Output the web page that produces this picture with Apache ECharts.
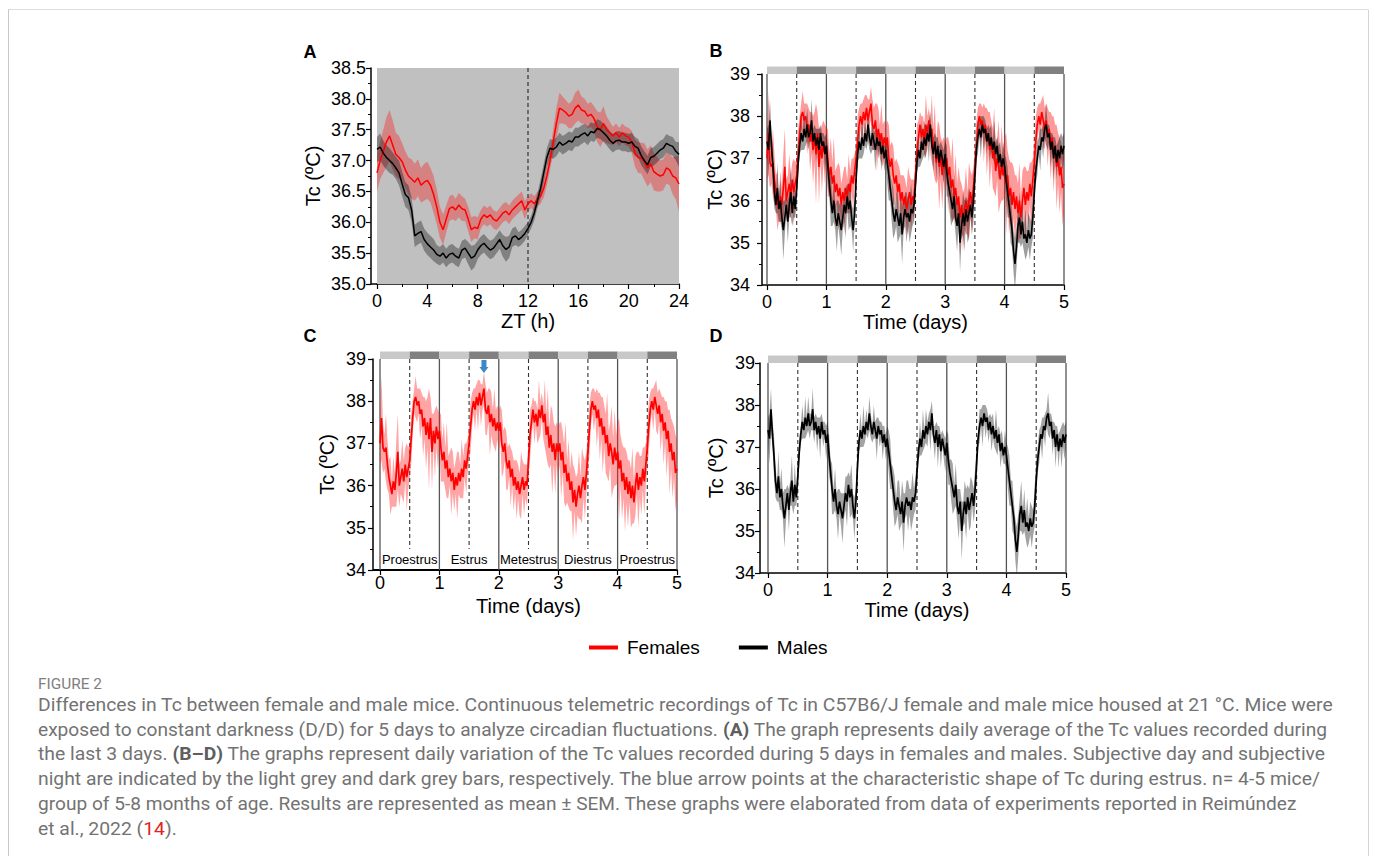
<!DOCTYPE html>
<html><head><meta charset="utf-8">
<script src="https://cdn.jsdelivr.net/npm/echarts@6/dist/echarts.min.js"></script>
<style>html,body{margin:0;padding:0;background:#fff}#c{width:1375px;height:856px}</style>
</head><body><div id="c"></div><script>
// ---------------- DATA ----------------
// Panel A: 24 h daily average, sampled every 0.25 h (ZT 0..24)
const ZT_STEP = 0.25;
const ztFemaleMean = [
  36.8,37.0,37.15,37.3,37.4,37.25,37.1,37.05,
  36.98,36.85,36.75,36.7,36.65,36.72,36.6,36.65,
  36.68,36.6,36.45,36.25,36.0,35.88,36.05,36.22,
  36.25,36.2,36.28,36.22,36.2,36.05,35.88,35.92,
  35.9,36.05,36.12,36.08,36.12,36.05,36.02,36.08,
  36.15,36.18,36.12,36.2,36.25,36.3,36.35,36.2,
  36.3,36.35,36.3,36.38,36.42,36.55,36.75,37.0,
  37.3,37.6,37.85,37.82,37.78,37.72,37.75,37.85,
  37.9,37.82,37.8,37.72,37.75,37.68,37.55,37.5,
  37.6,37.5,37.45,37.4,37.45,37.38,37.45,37.4,
  37.38,37.3,37.12,37.05,37.04,36.98,36.88,36.95,
  36.82,36.78,36.75,36.77,36.88,36.85,36.75,36.72,
  36.62];
const ztFemaleSem = [
  0.3,0.3,0.35,0.4,0.42,0.4,0.35,0.35,
  0.3,0.3,0.3,0.32,0.3,0.3,0.28,0.3,
  0.3,0.28,0.3,0.28,0.25,0.25,0.22,0.2,
  0.2,0.18,0.2,0.2,0.18,0.2,0.2,0.18,
  0.18,0.15,0.15,0.15,0.15,0.15,0.15,0.15,
  0.15,0.15,0.15,0.15,0.15,0.15,0.15,0.15,
  0.12,0.12,0.12,0.12,0.12,0.15,0.15,0.15,
  0.2,0.25,0.25,0.22,0.2,0.2,0.22,0.25,
  0.25,0.22,0.2,0.2,0.2,0.2,0.25,0.28,
  0.28,0.22,0.18,0.15,0.15,0.15,0.15,0.15,
  0.15,0.18,0.22,0.25,0.25,0.3,0.3,0.3,
  0.3,0.28,0.25,0.25,0.25,0.25,0.3,0.35,
  0.45];
const ztMaleMean = [
  37.18,37.22,37.12,37.05,37.0,36.95,36.88,36.8,
  36.62,36.45,36.4,36.2,35.78,35.82,35.85,35.72,
  35.65,35.6,35.55,35.48,35.45,35.5,35.42,35.48,
  35.5,35.45,35.42,35.55,35.58,35.5,35.42,35.45,
  35.55,35.62,35.66,35.6,35.55,35.58,35.65,35.72,
  35.62,35.56,35.6,35.75,35.78,35.72,35.76,35.82,
  35.9,36.0,36.15,36.35,36.55,36.8,37.05,37.2,
  37.18,37.22,37.3,37.25,37.28,37.32,37.3,37.38,
  37.38,37.42,37.45,37.4,37.47,37.45,37.52,37.5,
  37.45,37.4,37.33,37.28,37.32,37.33,37.3,37.3,
  37.28,37.3,37.23,37.2,37.08,37.0,36.93,37.05,
  37.07,37.12,37.17,37.2,37.28,37.25,37.23,37.15,
  37.1];
const ztMaleSem = [
  0.2,0.22,0.2,0.2,0.2,0.18,0.18,0.2,
  0.2,0.2,0.2,0.2,0.18,0.18,0.18,0.18,
  0.18,0.18,0.18,0.15,0.15,0.15,0.15,0.15,
  0.15,0.15,0.15,0.15,0.15,0.18,0.2,0.18,
  0.15,0.15,0.15,0.15,0.15,0.15,0.15,0.15,
  0.18,0.2,0.18,0.15,0.15,0.12,0.12,0.12,
  0.1,0.1,0.12,0.12,0.15,0.15,0.15,0.15,
  0.15,0.15,0.15,0.15,0.15,0.15,0.15,0.15,
  0.15,0.15,0.15,0.15,0.15,0.15,0.15,0.15,
  0.15,0.15,0.15,0.15,0.15,0.15,0.15,0.15,
  0.15,0.15,0.15,0.15,0.15,0.15,0.15,0.15,
  0.15,0.15,0.15,0.15,0.15,0.15,0.15,0.15,
  0.2];

// Panels B-D: 5 days, sampled every 0.025 day
const DAY_STEP = 0.025;
const femaleMean = [
  37.0,37.6,36.9,36.8,36.9,36.5,36.2,36.0,35.8,36.1, 35.9,36.3,36.8,36.0,36.2,36.4,36.1,36.5,36.2,36.4,
  36.6,37.1,37.6,38.0,38.1,37.9,38.0,37.7,37.8,37.4, 37.6,37.2,37.5,37.1,37.6,36.8,37.3,37.0,37.4,37.1,
  37.3,36.9,36.6,36.8,36.4,36.6,36.2,36.4,36.1,36.3, 35.9,36.2,36.0,36.3,36.1,36.4,36.2,36.6,36.4,36.7,
  37.0,37.4,37.8,38.0,37.8,38.1,37.9,38.2,37.9,38.1, 38.3,37.8,37.7,37.9,37.5,37.7,37.4,37.6,37.3,37.5,
  37.3,37.5,37.0,36.8,37.0,36.6,36.4,36.6,36.2,36.4, 36.0,36.2,35.9,36.1,35.8,36.0,36.2,35.9,36.1,36.0,
  36.6,37.2,37.5,37.8,37.5,37.7,37.4,37.8,37.6,37.9, 37.5,37.7,37.2,37.4,36.9,37.2,36.8,37.0,36.6,37.0,
  36.8,37.0,36.6,36.8,36.3,36.5,36.1,36.3,35.9,36.1, 35.6,35.9,35.5,35.8,36.0,35.7,36.0,36.2,35.9,36.3,
  36.8,37.3,37.8,38.0,37.8,37.9,37.6,37.8,37.4,37.6, 37.2,37.4,37.0,37.2,36.7,37.0,36.8,36.5,36.9,36.6,
  36.8,36.4,36.6,36.1,36.3,35.9,36.2,35.8,36.1,35.7, 36.0,35.6,36.0,36.3,35.9,36.2,36.0,36.4,36.1,36.5,
  36.9,37.4,37.8,38.0,37.8,38.1,37.9,37.7,37.9,37.5, 37.7,37.3,37.5,37.1,37.3,36.8,37.0,36.6,36.8,36.3,
  36.4];
const femaleSem = [
  0.5,1.0,0.6,0.4,0.8,0.6,0.4,0.7,0.3,0.6, 0.4,0.8,0.9,0.5,0.4,0.7,0.5,0.4,0.8,0.5,
  0.4,0.6,0.4,0.3,0.5,0.4,0.3,0.6,0.4,0.7, 0.5,0.8,0.6,1.2,0.5,0.9,0.4,0.8,0.5,0.7,
  0.4,0.8,0.5,0.7,0.5,0.9,0.5,0.4,0.8,0.5, 0.5,0.4,0.8,0.5,0.4,0.7,0.5,0.4,0.6,0.4,
  0.4,0.6,0.4,0.3,0.5,0.3,0.6,0.3,0.5,0.3, 0.4,0.6,0.5,0.4,0.8,0.5,0.4,0.7,0.5,0.4,
  0.5,0.4,0.8,0.5,0.4,0.7,0.5,0.4,0.7,0.4, 0.6,0.4,0.7,0.4,0.5,0.8,0.4,0.6,0.4,0.5,
  0.4,0.6,0.4,0.3,0.5,0.3,0.4,0.7,0.4,0.3, 0.4,0.8,0.5,0.9,0.5,0.7,1.0,0.5,0.8,0.5,
  0.6,0.5,0.9,0.5,0.7,1.0,0.5,0.8,0.5,0.7, 0.9,0.5,0.7,0.5,0.8,0.5,0.9,0.5,0.7,0.5,
  0.5,0.6,0.4,0.3,0.5,0.3,0.7,0.4,0.8,0.5, 0.9,0.5,0.7,1.0,0.6,0.5,1.1,0.6,0.9,0.6,
  0.7,1.2,0.6,0.9,0.6,1.0,0.6,0.8,0.5,0.7, 0.9,0.5,0.7,0.5,0.9,0.5,0.7,0.5,0.8,0.5,
  0.5,0.6,0.4,0.3,0.5,0.3,0.6,0.5,0.4,0.7, 0.4,0.8,0.5,0.9,0.5,1.0,0.6,0.9,0.6,0.9,
  0.7];
const maleMean = [
  37.4,37.2,37.9,37.3,36.8,36.2,35.9,36.3,35.8,36.0, 35.6,35.3,35.6,35.9,35.5,35.9,36.2,35.7,36.1,35.8,
  36.3,36.9,37.3,37.6,37.4,37.7,37.5,37.8,37.5,37.6, 37.9,37.4,37.6,37.3,37.5,37.2,37.6,37.3,37.4,37.1,
  37.3,36.8,36.4,36.0,35.7,36.0,35.6,35.4,35.7,35.5, 35.3,35.6,35.9,35.7,36.1,35.8,36.0,35.6,35.3,35.7,
  36.5,37.1,37.4,37.2,37.5,37.3,37.6,37.4,37.8,37.5, 37.3,37.6,37.4,37.2,37.5,37.3,37.4,37.1,37.3,37.0,
  37.2,36.9,36.6,36.3,36.0,35.7,35.5,35.8,35.6,35.4, 35.7,35.2,35.6,35.8,35.6,35.7,35.5,35.8,35.7,35.9,
  36.4,36.9,37.2,37.0,37.4,37.2,37.5,37.3,37.6,37.4, 37.8,37.3,37.1,37.4,37.0,37.3,36.9,37.2,37.0,36.8,
  37.1,36.7,36.4,36.2,36.0,35.8,36.1,35.6,35.4,35.7, 35.0,35.4,35.7,35.4,35.8,35.5,35.7,35.9,35.6,36.0,
  36.6,37.2,37.5,37.7,37.5,37.8,37.6,37.7,37.4,37.6, 37.3,37.5,37.2,37.4,37.1,37.3,36.9,37.1,36.8,37.0,
  36.8,36.5,36.2,35.9,35.6,35.3,34.8,34.5,34.9,35.4, 35.6,35.2,35.5,35.1,35.2,35.0,35.3,35.1,35.2,35.6,
  36.2,36.7,37.0,37.3,37.2,37.5,37.4,37.7,37.8,37.5, 37.6,37.2,37.4,37.0,37.3,36.9,37.2,37.0,37.3,37.1,
  37.3];
const maleSem = [
  0.3,0.6,0.5,0.3,0.5,0.4,0.2,0.6,0.3,0.5, 0.3,0.7,0.4,0.2,0.5,0.3,0.6,0.3,0.5,0.2,
  0.4,0.3,0.2,0.4,0.2,0.5,0.2,0.4,0.3,0.2, 0.5,0.3,0.2,0.4,0.2,0.5,0.2,0.3,0.2,0.4,
  0.3,0.5,0.3,0.6,0.3,0.5,0.3,0.6,0.3,0.4, 0.6,0.3,0.4,0.6,0.3,0.5,0.6,0.3,0.5,0.3,
  0.4,0.2,0.4,0.2,0.5,0.2,0.3,0.2,0.4,0.3, 0.2,0.4,0.2,0.5,0.2,0.3,0.2,0.4,0.2,0.3,
  0.3,0.5,0.6,0.3,0.5,0.6,0.3,0.4,0.6,0.3, 0.5,0.7,0.3,0.4,0.6,0.3,0.5,0.6,0.3,0.4,
  0.4,0.2,0.4,0.2,0.5,0.2,0.4,0.3,0.2,0.5, 0.3,0.2,0.4,0.2,0.5,0.2,0.4,0.2,0.3,0.4,
  0.3,0.6,0.3,0.5,0.6,0.3,0.5,0.4,0.6,0.3, 0.7,0.3,0.5,0.6,0.3,0.5,0.6,0.3,0.4,0.5,
  0.4,0.2,0.4,0.2,0.5,0.2,0.4,0.2,0.3,0.2, 0.4,0.3,0.2,0.5,0.3,0.2,0.4,0.3,0.2,0.4,
  0.3,0.5,0.6,0.3,0.6,0.4,0.5,0.6,0.5,0.4, 0.6,0.3,0.5,0.3,0.6,0.3,0.4,0.5,0.3,0.5,
  0.4,0.3,0.4,0.2,0.5,0.2,0.4,0.2,0.5,0.3, 0.2,0.4,0.2,0.5,0.2,0.4,0.2,0.5,0.3,0.4,
  0.3];

// subjective day (0) / night (1) bars, half-day segments
const dayNightBars = [[0,0.5,0],[0.5,1,1],[1,1.5,0],[1.5,2,1],[2,2.5,0],[2.5,3,1],[3,3.5,0],[3.5,4,1],[4,4.5,0],[4.5,5,1]];
// vertical separators: [day, dashed?]
const dayLines = [[0,0],[0.5,1],[1,0],[1.5,1],[2,0],[2.5,1],[3,0],[3.5,1],[4,0],[4.5,1],[5,0]];
const phaseNames = ['Proestrus','Estrus','Metestrus','Diestrus','Proestrus'];
const phasePos = [[0.5,0],[1.5,1],[2.5,2],[3.5,3],[4.5,4]];
const estrusArrow = [[1.75, 39]];
const legendNames = ['Females','Males'];
const panelLetters = ['A','B','C','D'];

const captionLines = [
  'Differences in Tc between female and male mice. Continuous telemetric recordings of Tc in C57B6/J female and male mice housed at 21 °C. Mice were',
  'exposed to constant darkness (D/D) for 5 days to analyze circadian fluctuations. {b|(A)} The graph represents daily average of the Tc values recorded during',
  'the last 3 days. {b|(B–D)} The graphs represent daily variation of the Tc values recorded during 5 days in females and males. Subjective day and subjective',
  'night are indicated by the light grey and dark grey bars, respectively. The blue arrow points at the characteristic shape of Tc during estrus. n= 4-5 mice/',
  'group of 5-8 months of age. Results are represented as mean ± SEM. These graphs were elaborated from data of experiments reported in Reimúndez',
  'et al., 2022 ({r|14}).'
];
// right edge of each caption line in the reference (null = same condensing as line 1)
const captionRightEdges = [1334, 1328, 1327, 1322, 1298, null];

// ---------------- STYLE / LAYOUT ----------------
const FONT = 'Liberation Sans, Arial, Helvetica, sans-serif';
const RED = '#ff0000';
const grids = [
  {left:377, top:68,  width:302, height:216},
  {left:767, top:74,  width:297, height:211},
  {left:380, top:359, width:297, height:211},
  {left:768, top:363, width:298, height:210}
];
const yOffsets = [6, 5, 7, 8];
const yNameGaps = [48, 37, 36, 34];
const yLabelMargins = [5, 12, 7, 5];
const xLabelMargins = [8, 8, 4, 8];
const xNameGaps = [27, 27, 26, 27];

function xAxisOf(i){
  const isA = i === 0;
  return {
    type:'value', gridIndex:i, min:0, max: isA ? 24 : 5, interval: isA ? 4 : 1,
    name: isA ? 'ZT (h)' : 'Time (days)', nameLocation:'middle', nameGap:xNameGaps[i],
    nameTextStyle:{fontFamily:FONT, fontSize:20, color:'#000'},
    axisLine:{show:true, onZero:false, lineStyle:{color:'#000', width: i===2 ? 2 : 1.5}},
    axisTick:{show:true, inside:false, length:5, lineStyle:{color:'#000', width:1.2}},
    minorTick:{show:isA, splitNumber:2, length:3, lineStyle:{color:'#000', width:1}},
    axisLabel:{fontFamily:FONT, fontSize:18, color:'#000', margin:xLabelMargins[i]},
    splitLine:{show:false}, minorSplitLine:{show:false}
  };
}
function yAxisOf(i){
  const isA = i === 0;
  return {
    type:'value', gridIndex:i, min: isA ? 35 : 34, max: isA ? 38.5 : 39, interval: isA ? 0.5 : 1,
    offset:yOffsets[i],
    name:'Tc (ºC)', nameLocation:'middle', nameGap:yNameGaps[i], nameRotate:90,
    nameTextStyle:{fontFamily:FONT, fontSize:20, color:'#000'},
    axisLine:{show:true, onZero:false, lineStyle:{color:'#000', width:1.5}},
    axisTick:{show:true, inside:false, length:5, lineStyle:{color:'#000', width:1.2}},
    minorTick:{show:true, splitNumber:2, length:3, lineStyle:{color:'#000', width:1}},
    axisLabel:{fontFamily:FONT, fontSize:18, color:'#000', margin:yLabelMargins[i],
      formatter: v => isA ? v.toFixed(1) : String(v)},
    splitLine:{show:false}, minorSplitLine:{show:false}
  };
}

function bandSeries(name, gi, mean, sem, step, fill, z){
  const data = mean.map((m, i) => [i * step, m - sem[i], m + sem[i]]);
  return {
    type:'custom', name, xAxisIndex:gi, yAxisIndex:gi, z, silent:true, clip:true,
    encode:{x:0, y:[1,2]}, data,
    renderItem(params, api){
      if (params.dataIndex !== 0) return null;
      const top = [], bot = [];
      for (let k = 0; k < data.length; k++){
        top.push(api.coord([data[k][0], data[k][2]]));
        bot.push(api.coord([data[k][0], data[k][1]]));
      }
      return {type:'polygon', shape:{points: top.concat(bot.reverse())}, style:{fill}};
    }
  };
}
function lineSeries(name, gi, mean, step, color, width, z){
  return {
    type:'line', name, xAxisIndex:gi, yAxisIndex:gi, z, silent:true,
    data: mean.map((v, i) => [i * step, v]),
    showSymbol:false, symbol:'none', color, itemStyle:{color},
    lineStyle:{color, width}, clip:true
  };
}
function barsSeries(gi){
  return {
    type:'custom', xAxisIndex:gi, yAxisIndex:gi, z:6, silent:true, clip:false,
    encode:{x:[0,1]}, data: dayNightBars,
    renderItem(params, api){
      const s = api.coord([api.value(0), 39]);
      const e = api.coord([api.value(1), 39]);
      return {type:'rect', shape:{x:s[0], y:s[1]-7.5, width:e[0]-s[0], height:7.5},
        style:{fill: api.value(2) ? '#808080' : '#c8c8c8'}};
    }
  };
}
function dayLineSeries(gi, shortDash){
  return {
    type:'custom', xAxisIndex:gi, yAxisIndex:gi, z:1, silent:true, clip:false,
    encode:{x:0}, data: dayLines,
    renderItem(params, api){
      const x = api.value(0), dashed = api.value(1);
      const p1 = api.coord([x, 39]);
      const p2 = api.coord([x, (dashed && shortDash) ? 34.5 : 34]);
      return {type:'line', shape:{x1:p1[0], y1:p1[1], x2:p2[0], y2:p2[1]},
        style:{stroke: dashed ? '#333' : '#555', lineWidth: dashed ? 1.1 : 1.3, lineDash: dashed ? [4,3] : null}};
    }
  };
}

const series = [
  // Panel A
  {type:'custom', xAxisIndex:0, yAxisIndex:0, z:1, silent:true, clip:false, encode:{x:0}, data:[[0,24]],
    renderItem(params, api){
      const a = api.coord([api.value(0), 38.5]), b = api.coord([api.value(1), 35]);
      return {type:'rect', shape:{x:a[0], y:a[1], width:b[0]-a[0], height:b[1]-a[1]}, style:{fill:'#c0c0c0'}};
    }},
  bandSeries('Females SEM A', 0, ztFemaleMean, ztFemaleSem, ZT_STEP, 'rgba(255,0,0,0.32)', 2),
  bandSeries('Males SEM A', 0, ztMaleMean, ztMaleSem, ZT_STEP, 'rgba(0,0,0,0.33)', 2),
  {type:'custom', xAxisIndex:0, yAxisIndex:0, z:3, silent:true, clip:false, encode:{x:0}, data:[[12]],
    renderItem(params, api){
      const p1 = api.coord([api.value(0), 38.5]), p2 = api.coord([api.value(0), 35]);
      return {type:'line', shape:{x1:p1[0], y1:p1[1], x2:p2[0], y2:p2[1]},
        style:{stroke:'#333', lineWidth:1.2, lineDash:[4,3]}};
    }},
  lineSeries('Females', 0, ztFemaleMean, ZT_STEP, RED, 1.5, 4),
  lineSeries('Males', 0, ztMaleMean, ZT_STEP, '#000', 1.5, 4),
  // Panel B
  dayLineSeries(1, false), barsSeries(1),
  bandSeries('Females SEM B', 1, femaleMean, femaleSem, DAY_STEP, 'rgba(255,30,30,0.45)', 2),
  bandSeries('Males SEM B', 1, maleMean, maleSem, DAY_STEP, 'rgba(0,0,0,0.38)', 2),
  lineSeries('Females B', 1, femaleMean, DAY_STEP, RED, 1.6, 4),
  lineSeries('Males B', 1, maleMean, DAY_STEP, '#000', 1.6, 4),
  // Panel C
  dayLineSeries(2, true), barsSeries(2),
  bandSeries('Females SEM C', 2, femaleMean, femaleSem, DAY_STEP, 'rgba(255,30,30,0.4)', 2),
  lineSeries('Females C', 2, femaleMean, DAY_STEP, RED, 1.7, 4),
  {type:'custom', xAxisIndex:2, yAxisIndex:2, z:5, silent:true, clip:false, encode:{x:0}, data: phasePos,
    renderItem(params, api){
      const p = api.coord([api.value(0), 34.25]);
      return {type:'text', x:p[0], y:p[1], style:{text: phaseNames[api.value(1)], fill:'#000',
        fontFamily:FONT, fontSize:13, align:'center', verticalAlign:'middle'}};
    }},
  {type:'custom', xAxisIndex:2, yAxisIndex:2, z:7, silent:true, clip:false, encode:{x:0, y:1}, data: estrusArrow,
    renderItem(params, api){
      const p = api.coord([api.value(0), api.value(1)]);
      return {type:'group', children:[
        {type:'rect', shape:{x:p[0]-2.5, y:p[1]+1, width:5, height:8}, style:{fill:'#3d86c8'}},
        {type:'polygon', shape:{points:[[p[0]-4.5, p[1]+8],[p[0]+4.5, p[1]+8],[p[0], p[1]+14]]}, style:{fill:'#3d86c8'}}
      ]};
    }},
  // Panel D
  dayLineSeries(3, false), barsSeries(3),
  bandSeries('Males SEM D', 3, maleMean, maleSem, DAY_STEP, 'rgba(0,0,0,0.36)', 2),
  lineSeries('Males D', 3, maleMean, DAY_STEP, '#000', 1.7, 4)
];

// caption fitting (condense each line to the reference line width)
const mctx = document.createElement('canvas').getContext('2d');
const CAP_FONT_SIZE = 18, CAP_FAMILY = 'Roboto', CAP_LEFT = 38;
function measureRich(line){
  let w = 0;
  const re = /\{(\w)\|([^}]*)\}|([^{]+)/g; let m;
  while ((m = re.exec(line))){
    if (m[3] !== undefined){ mctx.font = CAP_FONT_SIZE + 'px ' + CAP_FAMILY; w += mctx.measureText(m[3]).width; }
    else { mctx.font = (m[1] === 'b' ? 'bold ' : '') + CAP_FONT_SIZE + 'px ' + CAP_FAMILY; w += mctx.measureText(m[2]).width; }
  }
  return w;
}
const baseScale = (captionRightEdges[0] - CAP_LEFT) / measureRich(captionLines[0]);
const lineScales = captionLines.map((t, k) => captionRightEdges[k] ? (captionRightEdges[k] - CAP_LEFT) / measureRich(t) : baseScale);
mctx.font = '14px ' + CAP_FAMILY;
const figScale = 64 / mctx.measureText('FIGURE 2').width;

const capRich = {
  b:{fontFamily:CAP_FAMILY, fontSize:CAP_FONT_SIZE, fontWeight:'bold', fill:'#5e5e5e'},
  r:{fontFamily:CAP_FAMILY, fontSize:CAP_FONT_SIZE, fill:'#e2231a'}
};
const graphic = [
  {type:'line', shape:{x1:8, y1:9.5, x2:1368, y2:9.5}, style:{stroke:'#dcdcdc', lineWidth:1}},
  {type:'line', shape:{x1:8.5, y1:9.5, x2:8.5, y2:856}, style:{stroke:'#c8c8c8', lineWidth:1}},
  {type:'line', shape:{x1:1368.5, y1:9.5, x2:1368.5, y2:856}, style:{stroke:'#d4d4d4', lineWidth:1}},
  // x-axis line continuation to the offset y-axis
  {type:'line', shape:{x1:371, y1:284, x2:377, y2:284}, style:{stroke:'#000', lineWidth:1.5}},
  {type:'line', shape:{x1:762, y1:285, x2:767, y2:285}, style:{stroke:'#000', lineWidth:1.5}},
  {type:'line', shape:{x1:373, y1:570, x2:380, y2:570}, style:{stroke:'#000', lineWidth:2}},
  {type:'line', shape:{x1:760, y1:573, x2:768, y2:573}, style:{stroke:'#000', lineWidth:1.5}},
  {type:'text', x:CAP_LEFT, y:684, scaleX:figScale, style:{text:'FIGURE 2', fontFamily:CAP_FAMILY, fontSize:14, fontWeight:'normal', fill:'#808080', verticalAlign:'middle'}}
];
[[310,52],[716,51],[310,336],[716,336]].forEach((p, k) => graphic.push(
  {type:'text', x:p[0], y:p[1], style:{text:panelLetters[k], fontFamily:FONT, fontSize:18, fontWeight:'bold', fill:'#000', align:'center', verticalAlign:'middle'}}));
captionLines.forEach((t, k) => graphic.push(
  {type:'text', x:CAP_LEFT, y:705 + k*24.8, scaleX:lineScales[k],
   style:{text:t, fontFamily:CAP_FAMILY, fontSize:CAP_FONT_SIZE, fill:'#737373', verticalAlign:'middle', rich:capRich}}));

const chart = echarts.init(document.getElementById('c'), null, {renderer:'svg', width:1375, height:856});
chart.setOption({
  animation:false,
  backgroundColor:'#fff',
  grid: grids.map(g => Object.assign({containLabel:false}, g)),
  xAxis: [0,1,2,3].map(xAxisOf),
  yAxis: [0,1,2,3].map(yAxisOf),
  legend:{
    data: legendNames.map(n => ({name:n, icon:'rect'})), left:584, top:633,
    itemWidth:29, itemHeight:4, itemGap:39, selectedMode:false,
    textStyle:{fontFamily:FONT, fontSize:19, color:'#000', padding:[0,0,0,4]}
  },
  series,
  graphic
});
</script></body></html>
